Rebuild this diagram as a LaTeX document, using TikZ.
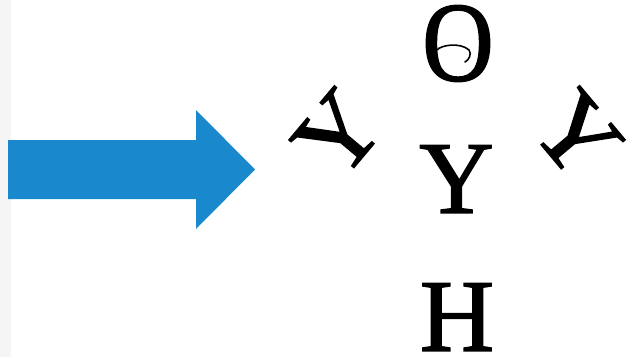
\documentclass[tikz,border=0pt]{standalone}
\usepackage{fontspec}
\setmainfont{Liberation Serif}
\newfontfamily\letterfont[FakeBold=1.5]{Liberation Serif}
\definecolor{arrowblue}{HTML}{1A88CC}
\definecolor{stripgray}{HTML}{F5F5F5}
\begin{document}
\begin{tikzpicture}[x=1pt,y=-1pt,
  letter/.style={inner sep=0pt,font=\letterfont\fontsize{103}{103}\selectfont}]
\useasboundingbox (0,0) rectangle (641,357);
\fill[white] (0,0) rectangle (641,357);
\fill[stripgray] (0,0) rectangle (11,357);
% blue arrow
\fill[arrowblue] (8,140) -- (196,140) -- (196,110) -- (255,169.5) -- (196,229) -- (196,199) -- (8,199) -- cycle;
% letters
\node[letter,xscale=0.96,yscale=1.1] (o) at (458,43.5) {O};
\node[letter] (y) at (456.5,179) {Y};
\node[letter] (h) at (457,317) {H};
\node[letter,rotate=50] (yl) at (338,134) {Y};
\node[letter,rotate=-50] (yr) at (577,135) {Y};
% swirl inside the O
\draw[line width=1.6pt,line cap=round] (437,50) .. controls (441,45) and (460,42) .. (469,50)
  .. controls (472,54) and (469,60) .. (465,62);
\end{tikzpicture}
\end{document}
